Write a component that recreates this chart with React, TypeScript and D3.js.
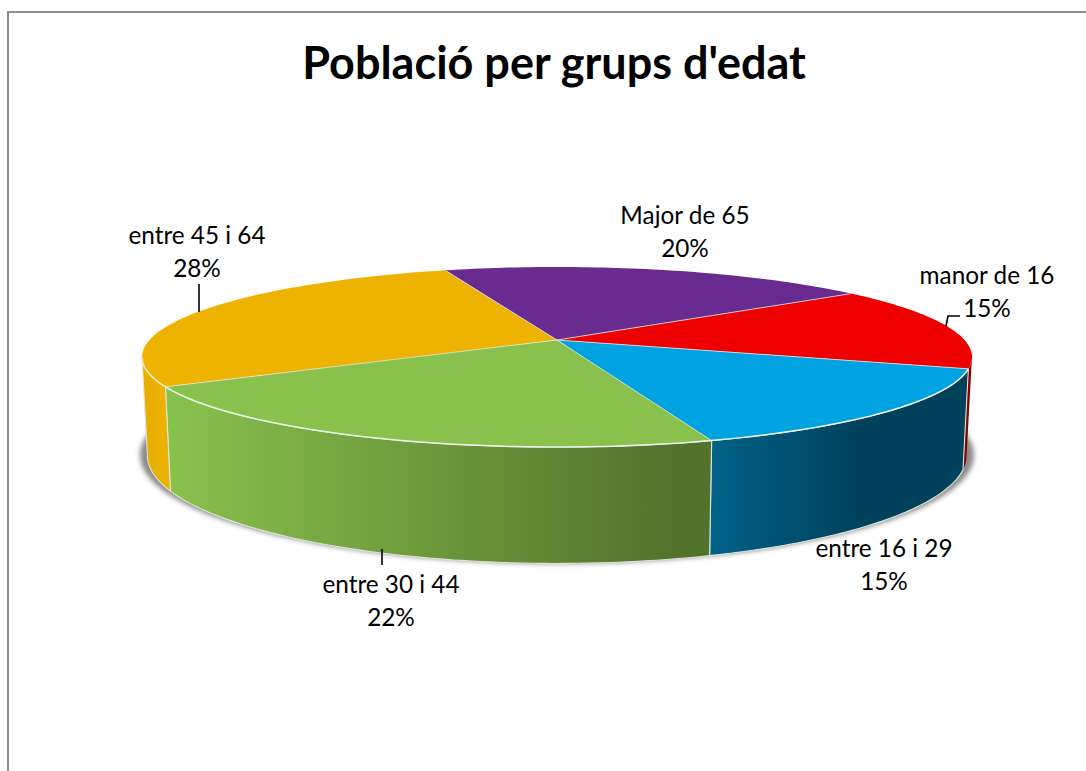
import React from "react";
import * as d3 from "d3";

const titleText = "Població per grups d'edat";
const categories = ["manor de 16", "entre 16 i 29", "entre 30 i 44", "entre 45 i 64", "Major de 65"];
const values = [15.2, 14.9, 21.9, 27.9, 20.1];
const percentLabels = ["15%", "15%", "22%", "28%", "20%"];
const topColors = ["#ee0000", "#00a2e2", "#88c14c", "#eeb200", "#682c91"];
const wallFrom = ["#8a0000", "#006288", "#88c14c", "#eeb200", "#682c91"];
const wallTo = ["#8a0000", "#00415c", "#53722c", "#e8ae00", "#682c91"];
const labelCx = [987, 884, 391, 197, 685];
const labelBaseY = [284, 557, 593, 244, 224];

const W = 1086, H = 771;
const apexX = 557, apexY = 340;
const R = 407.5, RS = 86.8, K = 0.189;
const deg = Math.PI / 180;

const topPt = (t: number): [number, number] => {
  const u = Math.cos(t), v = Math.sin(t), w = 1 - K * v;
  return [apexX + (R * u) / w, apexY + (RS * v) / w];
};
const botPt = (t: number): [number, number] => {
  const [x, y] = topPt(t);
  return [apexX + (x - apexX) * 0.987, apexY + (y - apexY) * 1.2 + 95];
};
const samples = (a: number, b: number) => d3.range(0, 61).map((i) => a + ((b - a) * i) / 60);
const line = d3.line();

const pie = d3.pie<number>().sort(null).startAngle(-36.5 * deg).endAngle(323.5 * deg);
const arcs = pie(values);
const visA = 10.9 * deg, visB = 169.1 * deg;

export default function App() {
  return (
    <svg width={W} height={H} viewBox={`0 0 ${W} ${H}`}
      style={{ position: "fixed", left: 0, top: 0, background: "#fff" }}
      fontFamily="Lato, 'Noto Sans', sans-serif">
      <defs>
        <filter id="sh" x="-10%" y="-20%" width="120%" height="140%">
          <feGaussianBlur stdDeviation="2.6" />
        </filter>
        {arcs.map((a, i) => {
          const s = Math.max(a.startAngle, visA), e = Math.min(a.endAngle, visB);
          if (e <= s) return null;
          const xs = [botPt(s)[0], botPt(e)[0]];
          return (
            <linearGradient key={i} id={`w${i}`} gradientUnits="userSpaceOnUse"
              x1={Math.max(xs[0], xs[1])} x2={Math.min(xs[0], xs[1])} y1={0} y2={0}>
              {i === 2 ? <>
                <stop offset="0" stopColor={wallTo[i]} />
                <stop offset="0.06" stopColor={wallTo[i]} />
                <stop offset="1" stopColor={wallFrom[i]} />
              </> : <>
                <stop offset="0" stopColor={i === 1 ? wallTo[i] : wallFrom[i]} />
                <stop offset={i === 1 ? 0.4 : 0} stopColor={i === 1 ? wallTo[i] : wallFrom[i]} />
                <stop offset="1" stopColor={i === 1 ? wallFrom[i] : wallTo[i]} />
              </>}
            </linearGradient>
          );
        })}
      </defs>

      <path d="M8 771V12H1086" fill="none" stroke="#8e8e8e" strokeWidth={2} />
      <text x={554} y={79} textAnchor="middle" fontSize={45} fontWeight={700} fill="#000">{titleText}</text>

      <ellipse cx={557} cy={455} rx={417} ry={108.5} fill="#8a8a8a" filter="url(#sh)" />

      {arcs.map((a, i) => {
        const s = Math.max(a.startAngle, visA), e = Math.min(a.endAngle, visB);
        if (e <= s) return null;
        const pts = [...samples(s, e).map(topPt), ...samples(e, s).map(botPt)];
        return <path key={i} d={line(pts) + "Z"} fill={`url(#w${i})`} stroke="#dfe6da" strokeWidth={i === 0 ? 0 : 1.1} strokeLinejoin="round" />;
      })}

      {arcs.map((a, i) => {
        const pts = [[apexX, apexY] as [number, number], ...samples(a.startAngle, a.endAngle).map(topPt)];
        return <path key={i} d={line(pts) + "Z"} fill={topColors[i]} />;
      })}
      {arcs.map((a, i) => (
        <path key={i} d={line([[apexX, apexY], topPt(a.startAngle)])!} stroke="#e6ece4" strokeWidth={0.9} strokeOpacity={0.85} fill="none" />
      ))}
      <path d={line(samples(18.3 * deg, 150.5 * deg).map(topPt))!} stroke="#f0f4ee" strokeWidth={1.5} fill="none" />
      <path d={line(samples(150.5 * deg, visB).map(topPt))!} stroke="#f8edc0" strokeWidth={1.5} fill="none" />

      <path d="M199 284V312" stroke="#000" strokeWidth={1.6} fill="none" />
      <path d="M382 549V565" stroke="#000" strokeWidth={1.6} fill="none" />
      <path d="M946 326L948 316H960" stroke="#000" strokeWidth={1.6} fill="none" />

      {categories.map((c, i) => (
        <text key={c} x={labelCx[i]} y={labelBaseY[i]} textAnchor="middle" fontSize={24.3} fill="#000">
          <tspan x={labelCx[i]}>{c}</tspan>
          <tspan x={labelCx[i]} dy={33}>{percentLabels[i]}</tspan>
        </text>
      ))}
    </svg>
  );
}
